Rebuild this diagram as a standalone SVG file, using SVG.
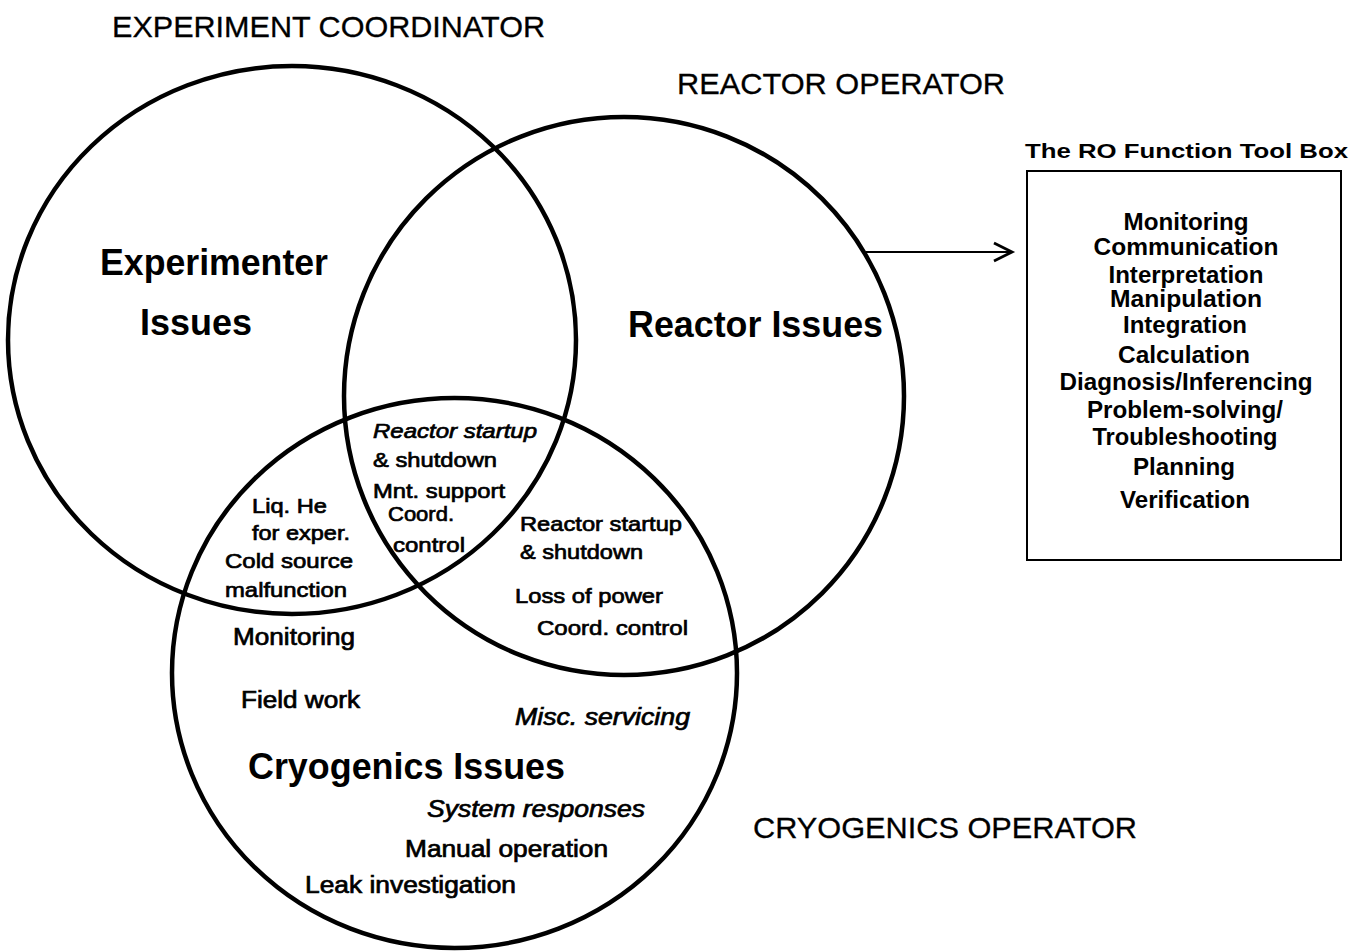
<svg xmlns="http://www.w3.org/2000/svg" width="1365" height="952" viewBox="0 0 1365 952">
<style>
text{font-family:"Liberation Sans",Arial,Helvetica,sans-serif;fill:#000}
.ring{fill:none;stroke:#000;stroke-width:4.5}
.role{font-size:30px;stroke:#000;stroke-width:0.3}
.big{font-size:36px;font-weight:bold}
.sm{font-size:21px;stroke:#000;stroke-width:0.7}
.md{font-size:23px;stroke:#000;stroke-width:0.7}
.it{font-style:italic}
.tool{font-size:23px;font-weight:bold;text-anchor:middle}
.conn{stroke:#000;stroke-width:2.2;fill:none}
</style>
<defs>
<marker id="arrow" viewBox="0 0 24 24" refX="20" refY="12" markerWidth="24" markerHeight="24" markerUnits="userSpaceOnUse" orient="auto">
<path d="M2,3 L20,12 L2,21" fill="none" stroke="#000" stroke-width="2.8"/>
</marker>
</defs>
<rect width="1365" height="952" fill="#fff"/>

<g id="experimenter">
<ellipse class="ring" cx="292" cy="340" rx="284" ry="274"/>
<text class="role" x="112" y="37" textLength="433" lengthAdjust="spacingAndGlyphs">EXPERIMENT COORDINATOR</text>
<text class="big" x="100" y="275" textLength="228" lengthAdjust="spacingAndGlyphs">Experimenter</text>
<text class="big" x="140" y="335" textLength="112" lengthAdjust="spacingAndGlyphs">Issues</text>
</g>

<g id="reactor">
<ellipse class="ring" cx="624" cy="396" rx="280" ry="279"/>
<text class="role" x="677" y="94" textLength="328" lengthAdjust="spacingAndGlyphs">REACTOR OPERATOR</text>
<text class="big" x="628" y="337" textLength="255" lengthAdjust="spacingAndGlyphs">Reactor Issues</text>
</g>

<g id="cryogenics">
<ellipse class="ring" cx="454.5" cy="673" rx="282.5" ry="275"/>
<text class="role" x="753" y="838" textLength="384" lengthAdjust="spacingAndGlyphs">CRYOGENICS OPERATOR</text>
<text class="big" x="248" y="779" textLength="317" lengthAdjust="spacingAndGlyphs">Cryogenics Issues</text>
<text class="md" x="233" y="645" textLength="122" lengthAdjust="spacingAndGlyphs">Monitoring</text>
<text class="md" x="241" y="708" textLength="119" lengthAdjust="spacingAndGlyphs">Field work</text>
<text class="md it" x="515" y="725" textLength="175" lengthAdjust="spacingAndGlyphs">Misc. servicing</text>
<text class="md it" x="427" y="817" textLength="218" lengthAdjust="spacingAndGlyphs">System responses</text>
<text class="md" x="405" y="857" textLength="203" lengthAdjust="spacingAndGlyphs">Manual operation</text>
<text class="md" x="305" y="893" textLength="211" lengthAdjust="spacingAndGlyphs">Leak investigation</text>
</g>

<g id="overlap-experimenter-cryogenics">
<text class="sm" x="252" y="513" textLength="75" lengthAdjust="spacingAndGlyphs">Liq. He</text>
<text class="sm" x="252" y="540" textLength="98" lengthAdjust="spacingAndGlyphs">for exper.</text>
<text class="sm" x="225" y="568" textLength="128" lengthAdjust="spacingAndGlyphs">Cold source</text>
<text class="sm" x="225" y="597" textLength="122" lengthAdjust="spacingAndGlyphs">malfunction</text>
</g>

<g id="overlap-all">
<text class="sm it" x="373" y="438" textLength="164" lengthAdjust="spacingAndGlyphs">Reactor startup</text>
<text class="sm" x="373" y="467" textLength="124" lengthAdjust="spacingAndGlyphs">&amp; shutdown</text>
<text class="sm" x="373" y="498" textLength="132" lengthAdjust="spacingAndGlyphs">Mnt. support</text>
<text class="sm" x="388" y="521" textLength="66" lengthAdjust="spacingAndGlyphs">Coord.</text>
<text class="sm" x="393" y="552" textLength="72" lengthAdjust="spacingAndGlyphs">control</text>
</g>

<g id="overlap-reactor-cryogenics">
<text class="sm" x="520" y="531" textLength="162" lengthAdjust="spacingAndGlyphs">Reactor startup</text>
<text class="sm" x="520" y="559" textLength="123" lengthAdjust="spacingAndGlyphs">&amp; shutdown</text>
<text class="sm" x="515" y="603" textLength="148" lengthAdjust="spacingAndGlyphs">Loss of power</text>
<text class="sm" x="537" y="635" textLength="151" lengthAdjust="spacingAndGlyphs">Coord. control</text>
</g>

<g id="toolbox">
<text x="1025" y="158" font-size="21" font-weight="bold" textLength="323" lengthAdjust="spacingAndGlyphs">The RO Function Tool Box</text>
<rect x="1027" y="171" width="314" height="389" fill="none" stroke="#000" stroke-width="2"/>
<text class="tool" x="1186" y="230" textLength="125" lengthAdjust="spacingAndGlyphs">Monitoring</text>
<text class="tool" x="1186" y="255" textLength="185" lengthAdjust="spacingAndGlyphs">Communication</text>
<text class="tool" x="1186" y="283" textLength="155" lengthAdjust="spacingAndGlyphs">Interpretation</text>
<text class="tool" x="1186" y="307" textLength="152" lengthAdjust="spacingAndGlyphs">Manipulation</text>
<text class="tool" x="1185" y="333" textLength="124" lengthAdjust="spacingAndGlyphs">Integration</text>
<text class="tool" x="1184" y="363" textLength="132" lengthAdjust="spacingAndGlyphs">Calculation</text>
<text class="tool" x="1186" y="390" textLength="253" lengthAdjust="spacingAndGlyphs">Diagnosis/Inferencing</text>
<text class="tool" x="1185" y="418" textLength="196" lengthAdjust="spacingAndGlyphs">Problem-solving/</text>
<text class="tool" x="1185" y="445" textLength="185" lengthAdjust="spacingAndGlyphs">Troubleshooting</text>
<text class="tool" x="1184" y="475" textLength="102" lengthAdjust="spacingAndGlyphs">Planning</text>
<text class="tool" x="1185" y="508" textLength="130" lengthAdjust="spacingAndGlyphs">Verification</text>
</g>

<g id="connectors">
<line class="conn" x1="866" y1="252" x2="1012" y2="252" marker-end="url(#arrow)"/>
</g>
</svg>
